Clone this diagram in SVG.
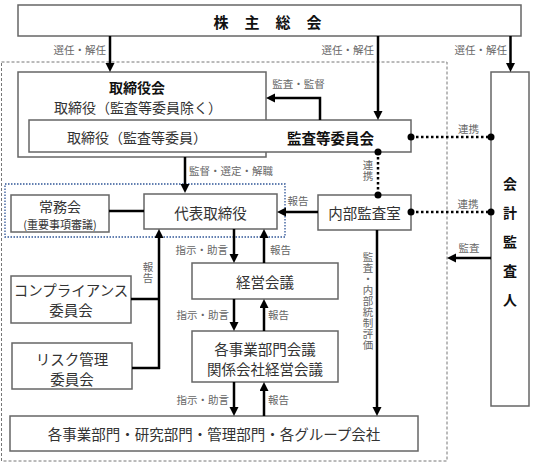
<svg xmlns="http://www.w3.org/2000/svg" width="542" height="462" viewBox="0 0 542 462">
<style>
.box{fill:#fff;stroke:#666;stroke-width:1.5}
.t{font-family:"Noto Sans CJK JP","Noto Sans",sans-serif;font-size:14.5px;fill:#333;text-anchor:middle;dominant-baseline:central}
.b{font-weight:bold;fill:#111}
.lb{font-size:10.5px;fill:#666}
.vt{writing-mode:vertical-rl;text-anchor:start;letter-spacing:0.5px}
.arr{stroke:#000;stroke-width:2.5;fill:none;marker-end:url(#ah)}
.ln{stroke:#000;stroke-width:2.5;fill:none}
.dot{stroke:#000;stroke-width:2.5;stroke-dasharray:2.5 2.5;fill:none}
</style>
<defs>
<marker id="ah" markerUnits="userSpaceOnUse" markerWidth="10" markerHeight="10" refX="2" refY="4.5" orient="auto">
<path d="M0,0 L9,4.5 L0,9 z" fill="#000"/>
</marker>
</defs>
<rect width="542" height="462" fill="#fff"/>
<rect x="1.5" y="62" width="445.5" height="399" fill="none" stroke="#777" stroke-width="1" stroke-dasharray="3 2"/>
<rect x="5" y="184" width="280" height="53" fill="none" stroke="#2f5597" stroke-width="1.3" stroke-dasharray="1.5 1.5"/>

<g id="shareholders">
<rect class="box" x="18" y="5" width="503" height="31"/>
<text class="t b" x="213.5" y="21" style="text-anchor:start;letter-spacing:16px;font-size:15px">株主総会</text>
</g>

<g id="board">
<rect class="box" x="18" y="72" width="248" height="85"/>
<text class="t b" x="137" y="87" style="font-size:14px">取締役会</text>
<text class="t" x="138" y="107" style="font-size:14px">取締役（監査等委員除く）</text>
</g>

<g id="audit-committee">
<rect class="box" x="29" y="120" width="382" height="32"/>
<text class="t" x="137" y="137" style="font-size:14px">取締役（監査等委員）</text>
<text class="t b" x="330.5" y="137">監査等委員会</text>
</g>

<g id="accounting-auditor">
<rect class="box" x="491" y="72" width="38" height="334"/>
<text class="t b" x="510" y="183" style="font-size:14px">会</text>
<text class="t b" x="510" y="212" style="font-size:14px">計</text>
<text class="t b" x="510" y="241" style="font-size:14px">監</text>
<text class="t b" x="510" y="270" style="font-size:14px">査</text>
<text class="t b" x="510" y="299" style="font-size:14px">人</text>
</g>

<g id="executive-committee">
<rect class="box" x="11" y="195" width="98" height="37"/>
<text class="t" x="60" y="205.5" style="font-size:14px">常務会</text>
<text class="t" x="60" y="224" style="font-size:11px">(重要事項審議)</text>
</g>

<g id="representative-director">
<rect class="box" x="144" y="194" width="133" height="35"/>
<text class="t" x="210.5" y="212">代表取締役</text>
</g>

<g id="internal-audit">
<rect class="box" x="318" y="195" width="93" height="35"/>
<text class="t" x="364.5" y="212">内部監査室</text>
</g>

<g id="management-meeting">
<rect class="box" x="192" y="263" width="146" height="36"/>
<text class="t" x="265" y="281">経営会議</text>
</g>

<g id="compliance">
<rect class="box" x="11" y="276" width="120" height="47"/>
<text class="t" x="71" y="289">コンプライアンス</text>
<text class="t" x="71" y="309">委員会</text>
</g>

<g id="risk">
<rect class="box" x="12" y="343" width="120" height="46"/>
<text class="t" x="72" y="358">リスク管理</text>
<text class="t" x="72" y="378">委員会</text>
</g>

<g id="division-meetings">
<rect class="box" x="192" y="331" width="146" height="51"/>
<text class="t" x="265" y="348">各事業部門会議</text>
<text class="t" x="265" y="368">関係会社経営会議</text>
</g>

<g id="divisions">
<rect class="box" x="10" y="416" width="408" height="35"/>
<text class="t" x="214" y="433">各事業部門・研究部門・管理部門・各グループ会社</text>
</g>

<g id="connectors">
<path class="arr" d="M110,36 V65"/>
<path class="arr" d="M378,36 V113"/>
<path class="arr" d="M510.5,36 V65"/>
<path class="arr" d="M320,120 V98 H273"/>
<path class="arr" d="M185,157 V186"/>
<path class="arr" d="M318,212 H284"/>
<path class="arr" d="M234,229 V256"/>
<path class="arr" d="M264,263 V236"/>
<path class="arr" d="M234,299 V324"/>
<path class="arr" d="M264,331 V306"/>
<path class="arr" d="M234,382 V409"/>
<path class="arr" d="M264,416 V389"/>
<path class="ln" d="M131,299 H159 M132,368 H160"/>
<path class="arr" d="M159,369 V236"/>
<path class="ln" d="M109,211 H144"/>
<path class="arr" d="M377,230 V409"/>
<path class="arr" d="M491,258 H454"/>
<path class="dot" d="M411,137 H491"/>
<path class="dot" d="M378,152 V195"/>
<path class="dot" d="M411,212 H491"/>
<g fill="#000">
<circle cx="411" cy="137" r="3.5"/><circle cx="491" cy="137" r="3.5"/>
<circle cx="378" cy="152" r="3.5"/><circle cx="378" cy="195" r="3.5"/>
<circle cx="411" cy="212" r="3.5"/><circle cx="491" cy="212" r="3.5"/>
</g>
</g>

<g id="labels">
<text class="t lb" x="106" y="49" style="text-anchor:end">選任・解任</text>
<text class="t lb" x="374" y="49" style="text-anchor:end">選任・解任</text>
<text class="t lb" x="507" y="49" style="text-anchor:end">選任・解任</text>
<text class="t lb" x="298.5" y="83">監査・監督</text>
<text class="t lb" x="468.5" y="128">連携</text>
<text class="t lb vt" x="368" y="160">連携</text>
<text class="t lb" x="189" y="170" style="text-anchor:start">監督・選定・解職</text>
<text class="t lb" x="298" y="200">報告</text>
<text class="t lb" x="468" y="203">連携</text>
<text class="t lb" x="469" y="247">監査</text>
<text class="t lb" x="228" y="249" style="text-anchor:end">指示・助言</text>
<text class="t lb" x="270" y="249" style="text-anchor:start">報告</text>
<text class="t lb vt" x="148" y="262">報告</text>
<text class="t lb" x="229" y="314" style="text-anchor:end">指示・助言</text>
<text class="t lb" x="268" y="314" style="text-anchor:start">報告</text>
<text class="t lb" x="229" y="399" style="text-anchor:end">指示・助言</text>
<text class="t lb" x="268" y="399" style="text-anchor:start">報告</text>
<text class="t lb vt" x="368" y="252">監査・内部統制評価</text>
</g>
</svg>
